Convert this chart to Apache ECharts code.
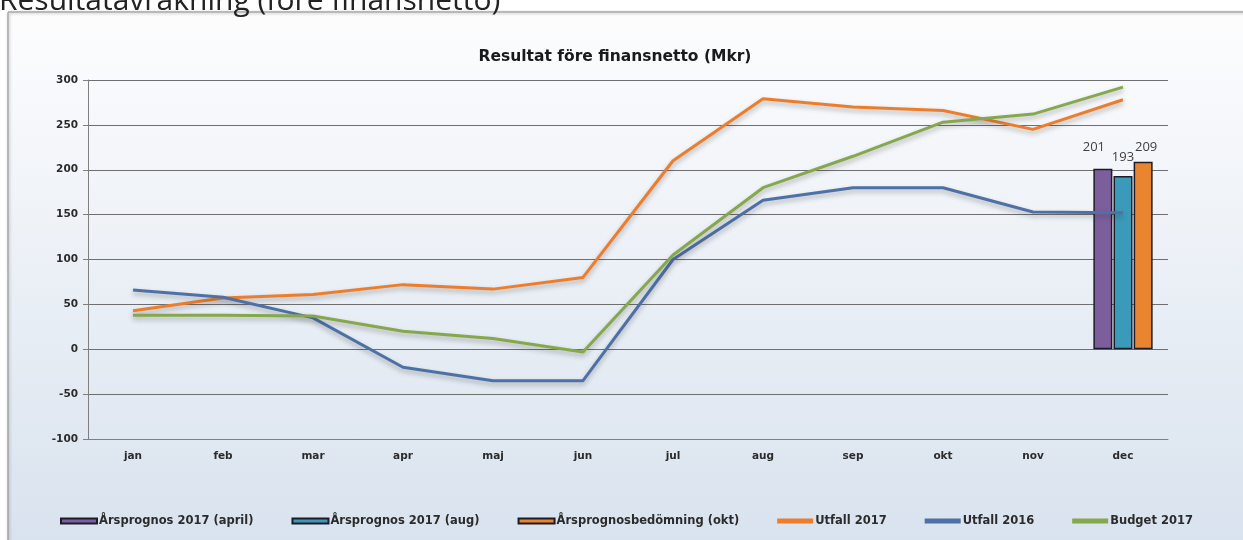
<!DOCTYPE html>
<html>
<head>
<meta charset="utf-8">
<script src="https://cdn.jsdelivr.net/npm/echarts@6/dist/echarts.min.js"></script>
<style>
  html, body { margin: 0; padding: 0; background: #fff; }
  #chart { width: 1243px; height: 540px; }
</style>
</head>
<body>
<div id="chart"></div>
<script>
// månader
var months = ["jan", "feb", "mar", "apr", "maj", "jun", "jul", "aug", "sep", "okt", "nov", "dec"];
// linjer
var utfall2017 = [43, 57, 61, 72, 67, 80, 210, 279, 270, 266, 245, 278];
var utfall2016 = [66, 58, 35, -20, -35, -35, 100, 166, 180, 180, 153, 152];
var budget2017 = [38, 38, 37, 20, 12, -3, 105, 180, 215, 253, 262, 292];
// årsprognoser (bara dec)
var prognosApril = ["-", "-", "-", "-", "-", "-", "-", "-", "-", "-", "-", 201];
var prognosAug = ["-", "-", "-", "-", "-", "-", "-", "-", "-", "-", "-", 193];
var prognosOkt = ["-", "-", "-", "-", "-", "-", "-", "-", "-", "-", "-", 209];

var chart = echarts.init(document.getElementById("chart"));

var axisFont = { fontFamily: "DejaVu Sans", fontWeight: "bold", fontSize: 10.5, color: "#2b2b2b" };

function barSerie(name, data, color, labelOffset) {
  return {
    name: name,
    type: "bar",
    barWidth: 19,
    barGap: "6%",
    data: data,
    itemStyle: { color: color, borderColor: "#1c1c28", borderWidth: 1.5 },
    label: {
      show: true,
      position: "top",
      distance: 3,
      offset: labelOffset,
      fontFamily: "Open Sans",
      fontSize: 13,
      color: "#404040"
    },
    z: 2
  };
}

function lineSerie(name, data, color) {
  return {
    name: name,
    type: "line",
    data: data,
    symbol: "none",
    lineStyle: {
      color: color,
      width: 3,
      shadowColor: "rgba(50,50,50,0.35)",
      shadowBlur: 5,
      shadowOffsetY: 3
    },
    itemStyle: { color: color },
    z: 3
  };
}

var option = {
  animation: false,
  graphic: [
    {
      type: "rect",
      shape: { x: 8, y: 12, width: 1240, height: 540 },
      style: {
        fill: new echarts.graphic.LinearGradient(0, 0, 0, 1, [
          { offset: 0, color: "#fdfdfe" },
          { offset: 1, color: "#d8e2ee" }
        ]),
        stroke: "#8c8c8c",
        lineWidth: 1,
        shadowColor: "rgba(0,0,0,0.35)",
        shadowBlur: 3,
        shadowOffsetX: 1,
        shadowOffsetY: 1
      },
      z: -10
    },
    {
      type: "text",
      x: -1,
      y: -14,
      style: {
        text: "Resultatavräkning (före finansnetto)",
        fontFamily: "Open Sans",
        fontSize: 30,
        fill: "#222",
        verticalAlign: "top"
      },
      z: -5
    }
  ],
  title: {
    text: "Resultat före finansnetto (Mkr)",
    left: 610,
    textAlign: "center",
    top: 44,
    textStyle: { fontFamily: "DejaVu Sans", fontWeight: "bold", fontSize: 15.5, color: "#1a1a1a" }
  },
  legend: {
    bottom: 8,
    left: 55,
    itemGap: 38,
    itemWidth: 36,
    itemHeight: 5,
    textStyle: { fontFamily: "DejaVu Sans", fontWeight: "bold", fontSize: 11.5, color: "#2b2b2b", padding: [0, 0, 0, -3] },
    data: [
      { name: "Årsprognos 2017 (april)", icon: "rect" },
      { name: "Årsprognos 2017 (aug)", icon: "rect" },
      { name: "Årsprognosbedömning (okt)", icon: "rect" },
      { name: "Utfall 2017", icon: "rect", itemStyle: { borderWidth: 0 } },
      { name: "Utfall 2016", icon: "rect", itemStyle: { borderWidth: 0 } },
      { name: "Budget 2017", icon: "rect", itemStyle: { borderWidth: 0 } }
    ]
  },
  grid: { left: 88, right: 75, top: 80, bottom: 101 },
  xAxis: {
    type: "category",
    data: months,
    axisLine: { onZero: false, lineStyle: { color: "#7f7f7f" } },
    axisTick: { show: false },
    axisLabel: Object.assign({ margin: 12 }, axisFont)
  },
  yAxis: {
    type: "value",
    min: -100,
    max: 300,
    interval: 50,
    axisLine: { show: true, lineStyle: { color: "#7f7f7f" } },
    axisTick: { show: true, length: 5, lineStyle: { color: "#7f7f7f" } },
    axisLabel: Object.assign({ margin: 10 }, axisFont),
    splitLine: { lineStyle: { color: "#6f6f6f", width: 1 } }
  },
  series: [
    barSerie("Årsprognos 2017 (april)", prognosApril, "#7d5e9c", [-9, -12]),
    barSerie("Årsprognos 2017 (aug)", prognosAug, "#3b9ab9", [0, -9]),
    barSerie("Årsprognosbedömning (okt)", prognosOkt, "#e9842f", [3, -5]),
    lineSerie("Utfall 2017", utfall2017, "#ee7d2b"),
    lineSerie("Utfall 2016", utfall2016, "#4d71a6"),
    lineSerie("Budget 2017", budget2017, "#86a84c")
  ]
};

chart.setOption(option);
</script>
</body>
</html>
